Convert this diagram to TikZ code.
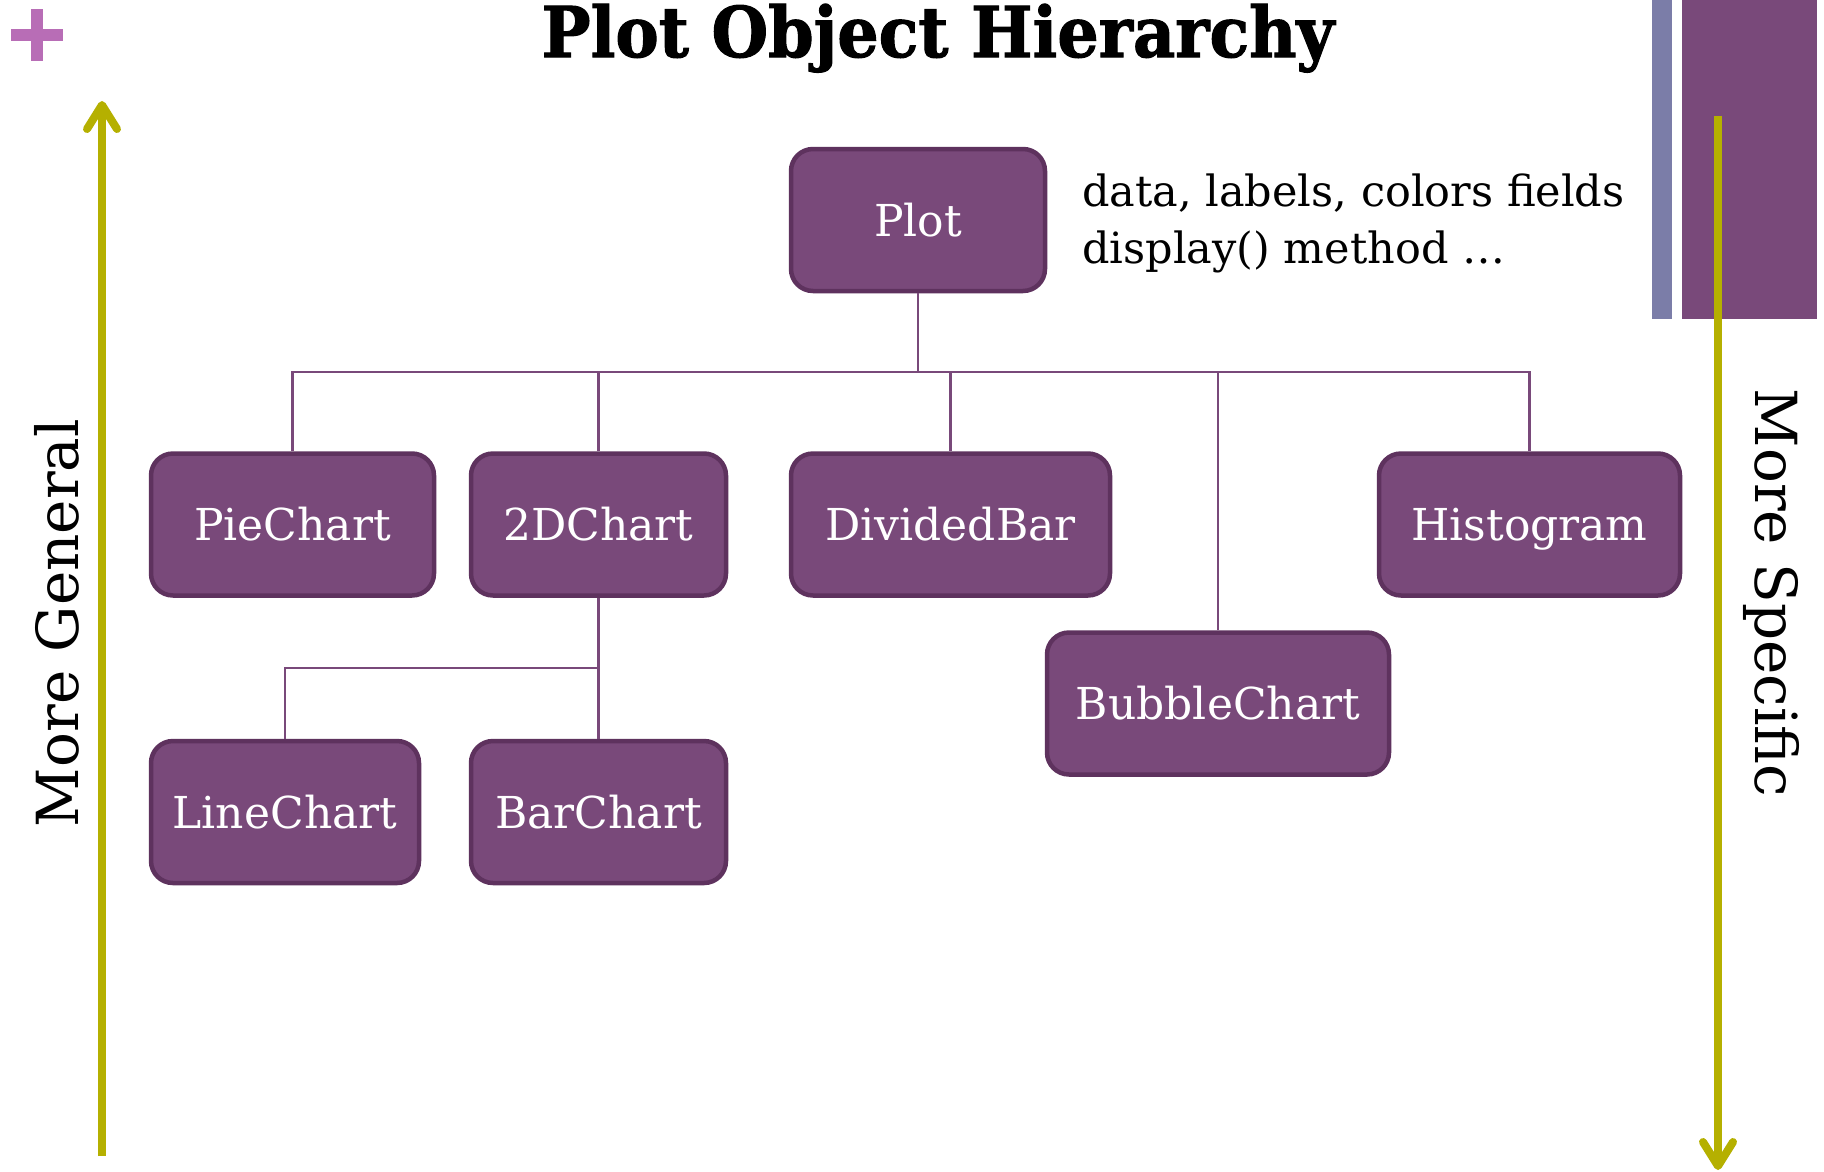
\documentclass[tikz,border=0pt]{standalone}
\usepackage{fontspec}
\setmainfont{DejaVu Serif}
\newfontfamily\titlefont{DejaVu Serif}[FakeStretch=0.93, BoldFeatures={FakeBold=1.5}]
\usetikzlibrary{arrows.meta}
\definecolor{boxfill}{RGB}{121,73,122}
\definecolor{boxline}{RGB}{94,50,94}
\definecolor{barblue}{RGB}{123,125,168}
\definecolor{plusc}{RGB}{184,109,182}
\definecolor{olivec}{RGB}{181,176,0}
\begin{document}
\begin{tikzpicture}[x=1pt,y=-1pt,
  cls/.style={draw=boxline, fill=boxfill, line width=4.5pt, rounded corners=22pt,
    minimum height=142pt, text=white, font=\fontsize{44}{44}\selectfont,
    inner sep=0pt, text height=32pt, text depth=0pt},
  link/.style={draw=boxfill, line width=2.5pt},
  bigarrow/.style={draw=olivec, line width=8pt,
    -{Straight Barb[length=24pt, width=30pt, line cap=round, line join=round]}},
  sidelabel/.style={font=\fontsize{58}{58}\selectfont, inner sep=0pt, text height=42pt, text depth=0pt},
  fieldtext/.style={font=\fontsize{43}{43}\selectfont, inner sep=0pt, anchor=base west}
]
\useasboundingbox (0,0) rectangle (1824,1171);
\fill[white] (0,0) rectangle (1824,1171);

% decorations top right
\fill[barblue] (1652,0) rectangle (1672,319);
\fill[boxfill] (1682,0) rectangle (1817,319);

% plus sign
\fill[plusc] (11,29) rectangle (63,41);
\fill[plusc] (31,9) rectangle (43,61);

% title
\node[font=\titlefont\bfseries\fontsize{70}{70}\selectfont, anchor=base, inner sep=0pt] (title) at (938,57) {Plot Object Hierarchy};

% side arrows
\coordinate (genbot) at (102,1156);
\coordinate (gentop) at (102,101);
\draw[bigarrow] (genbot) -- (gentop);
\coordinate (spectop) at (1718,116);
\coordinate (specbot) at (1718,1170);
\draw[bigarrow] (spectop) -- (specbot);

\node[sidelabel, rotate=90] (general) at (57,623) {More General};
\node[sidelabel, rotate=-90] (specific) at (1776,593) {More Specific};

% class boxes
\node[cls, minimum width=254pt] (plot) at (918,220) {Plot};
\node[cls, minimum width=283pt] (pie) at (292.5,524.5) {PieChart};
\node[cls, minimum width=255pt] (twod) at (598.5,524.5) {2DChart};
\node[cls, minimum width=319pt] (divbar) at (950.5,524.5) {DividedBar};
\node[cls, minimum width=301pt] (hist) at (1529.5,524.5) {Histogram};
\node[cls, minimum width=342pt] (bubble) at (1218,703.5) {BubbleChart};
\node[cls, minimum width=268pt] (line) at (285,812) {LineChart};
\node[cls, minimum width=255pt] (bar) at (598.5,812) {BarChart};

% field text
\node[fieldtext] (fields1) at (1082,206) {data, labels, colors fields};
\node[fieldtext] (fields2) at (1082,263) {display() method …};

% connectors
\coordinate (bus) at (918,372);
\coordinate (bus2) at (598.5,668);
\draw[link] (plot.south) -- (bus);
\draw[link] (pie.north) |- (bus);
\draw[link] (twod.north) |- (bus);
\draw[link] (divbar.north) |- (bus);
\draw[link] (bubble.north) |- (bus);
\draw[link] (hist.north) |- (bus);
\draw[link] (twod.south) -- (bar.north);
\draw[link] (line.north) |- (bus2);
\end{tikzpicture}
\end{document}
